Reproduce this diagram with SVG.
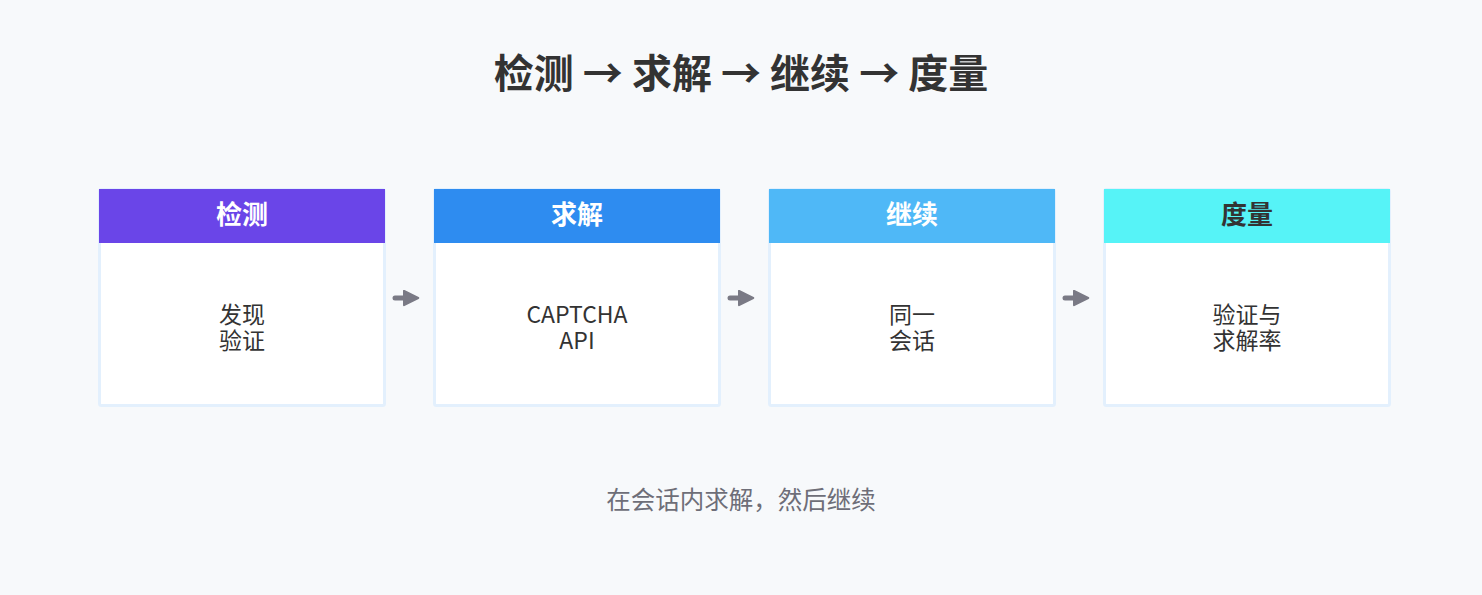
<svg xmlns="http://www.w3.org/2000/svg" width="1482" height="595" viewBox="0 0 1482 595">
<defs>
<style>
text{font-family:"Noto Sans CJK SC","Noto Sans",sans-serif;text-anchor:middle}
.title{font-size:40px;font-weight:700;fill:#333333}
.card{fill:#ffffff;stroke:#e3f0fd;stroke-width:3}
.hd{font-size:26px;font-weight:700;fill:#ffffff}
.body{font-size:23px;fill:#333333}
.foot{font-size:24.5px;fill:#6e6e78}
.conn{stroke:#7a7a85;stroke-width:5;stroke-linecap:round;fill:none}
</style>
<marker id="ah" viewBox="-1 -1 12 12" refX="0" refY="5" markerWidth="3.4" markerHeight="3.4" orient="auto" markerUnits="strokeWidth">
<path d="M0,0 L10,5 L0,10 Z" fill="#7a7a85" stroke="#7a7a85" stroke-width="1.5" stroke-linejoin="round"/>
</marker>
</defs>
<rect width="1482" height="595" fill="#f7f9fb"/>
<text class="title" x="741" y="88">检测 → 求解 → 继续 → 度量</text>
<g id="node-detect">
<rect class="card" x="99.5" y="189.5" width="285" height="216" rx="2"/>
<rect x="99" y="189" width="286" height="54" fill="#6a45e8"/>
<text class="hd" x="242" y="224">检测</text>
<text class="body" x="242" y="323">发现</text>
<text class="body" x="242" y="349">验证</text>
</g>
<g id="node-solve">
<rect class="card" x="434.5" y="189.5" width="285" height="216" rx="2"/>
<rect x="434" y="189" width="286" height="54" fill="#2e8cf0"/>
<text class="hd" x="577" y="224">求解</text>
<text class="body" x="577" y="323">CAPTCHA</text>
<text class="body" x="577" y="349">API</text>
</g>
<g id="node-continue">
<rect class="card" x="769.5" y="189.5" width="285" height="216" rx="2"/>
<rect x="769" y="189" width="286" height="54" fill="#4fb8f7"/>
<text class="hd" x="912" y="224">继续</text>
<text class="body" x="912" y="323">同一</text>
<text class="body" x="912" y="349">会话</text>
</g>
<g id="node-measure">
<rect class="card" x="1104.5" y="189.5" width="285" height="216" rx="2"/>
<rect x="1104" y="189" width="286" height="54" fill="#56f3f7"/>
<text class="hd" x="1247" y="224" style="fill:#333333">度量</text>
<text class="body" x="1247" y="323">验证与</text>
<text class="body" x="1247" y="349">求解率</text>
</g>
<g id="connectors">
<path class="conn" d="M395,298 L404,298" marker-end="url(#ah)"/>
<path class="conn" d="M730,298 L739,298" marker-end="url(#ah)"/>
<path class="conn" d="M1065,298 L1074,298" marker-end="url(#ah)"/>
</g>
<text class="foot" x="741" y="509">在会话内求解，然后继续</text>
</svg>
